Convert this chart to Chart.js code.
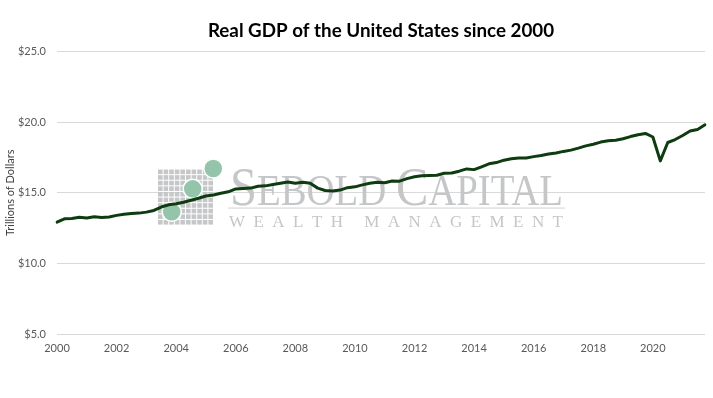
<!DOCTYPE html>
<html>
<head>
<meta charset="utf-8">
<script src="https://cdn.jsdelivr.net/npm/chart.js@4.4.0/dist/chart.umd.min.js"></script>
<style>
  html, body { margin: 0; padding: 0; background: #fff; }
</style>
</head>
<body>
<canvas id="gdp" width="713" height="398"></canvas>
<script>
// quarters 2000 Q1 .. 2021 Q4
const years = [2000, 2001, 2002, 2003, 2004, 2005, 2006, 2007, 2008, 2009, 2010,
               2011, 2012, 2013, 2014, 2015, 2016, 2017, 2018, 2019, 2020, 2021];
const quarterNames = ['Q1', 'Q2', 'Q3', 'Q4'];
const yearTicks = ['2000', '2002', '2004', '2006', '2008', '2010',
                   '2012', '2014', '2016', '2018', '2020'];
const valueTicks = [5, 10, 15, 20, 25];

// real GDP, trillions of dollars, one row per year
const gdpTrillions = [
  12.92, 13.16, 13.18, 13.26,
  13.22, 13.30, 13.25, 13.28,
  13.40, 13.48, 13.54, 13.56,
  13.63, 13.75, 13.99, 14.15,
  14.22, 14.33, 14.47, 14.61,
  14.77, 14.84, 14.97, 15.07,
  15.27, 15.30, 15.33, 15.46,
  15.49, 15.58, 15.67, 15.76,
  15.67, 15.75, 15.67, 15.33,
  15.16, 15.13, 15.19, 15.36,
  15.42, 15.56, 15.67, 15.75,
  15.71, 15.83, 15.82, 16.00,
  16.13, 16.20, 16.22, 16.24,
  16.38, 16.40, 16.53, 16.69,
  16.64, 16.84, 17.05, 17.14,
  17.31, 17.41, 17.46, 17.47,
  17.56, 17.64, 17.74, 17.82,
  17.93, 18.02, 18.16, 18.32,
  18.44, 18.59, 18.68, 18.72,
  18.83, 18.98, 19.11, 19.20,
  18.95, 17.26, 18.56, 18.77,
  19.06, 19.37, 19.48, 19.81
];

const categories = [];
years.forEach(y => quarterNames.forEach(q => categories.push(y + ' ' + q)));

const tickFont = { family: 'Lato', size: 11 };
const tickColor = '#595959';

// faded company logo sitting behind the line
const watermark = {
  id: 'watermark',
  beforeDatasetsDraw(chart) {
    const ctx = chart.ctx;
    const a = chart.chartArea;
    const ox = a.left + 101, oy = a.top + 118;
    ctx.save();

    const cell = 5.6;
    ctx.fillStyle = '#c6c7c9';
    for (let r = 0; r < 10; r++) {
      for (let c = 0; c < 10; c++) {
        ctx.fillRect(ox + c * cell, oy + r * cell, cell - 1, cell - 1);
      }
    }

    ctx.fillStyle = '#94c4aa';
    ctx.strokeStyle = '#ffffff';
    ctx.lineWidth = 1.5;
    [[13.7, 42.3], [34.7, 19.3], [55.3, -1]].forEach(p => {
      ctx.beginPath();
      ctx.arc(ox + p[0], oy + p[1], 9.5, 0, Math.PI * 2);
      ctx.fill();
      ctx.stroke();
    });

    ctx.fillStyle = '#c4c6c8';
    const big = '55px "Liberation Serif"', small = '44px "Liberation Serif"';
    const pieces = [['S', big], ['EBOLD ', small], ['C', big], ['APITAL', small]];
    let total = 0;
    pieces.forEach(p => { ctx.font = p[1]; p.push(ctx.measureText(p[0]).width); total += p[2]; });
    ctx.save();
    ctx.translate(ox + 72, oy + 35);
    ctx.scale(333 / total, 1);
    let x = 0;
    ctx.textBaseline = 'alphabetic';
    pieces.forEach(p => { ctx.font = p[1]; ctx.fillText(p[0], x, 0); x += p[2]; });
    ctx.restore();

    ctx.strokeStyle = '#d0d2d4';
    ctx.lineWidth = 1;
    ctx.beginPath();
    ctx.moveTo(ox + 70, oy + 38.5);
    ctx.lineTo(ox + 407, oy + 38.5);
    ctx.stroke();

    const sub = 'WEALTH MANAGEMENT';
    ctx.font = '17px "Liberation Serif"';
    let sum = 0;
    for (const ch of sub) sum += ctx.measureText(ch).width;
    const gap = (334 - sum) / (sub.length - 1);
    let sx = ox + 71;
    for (const ch of sub) {
      ctx.fillText(ch, sx, oy + 57);
      sx += ctx.measureText(ch).width + gap;
    }
    ctx.restore();
  }
};

new Chart(document.getElementById('gdp'), {
  type: 'line',
  data: {
    labels: categories,
    datasets: [{
      data: gdpTrillions,
      borderColor: '#0e3b10',
      borderWidth: 3,
      borderCapStyle: 'round',
      borderJoinStyle: 'round',
      pointRadius: 0,
      tension: 0,
      fill: false
    }]
  },
  options: {
    responsive: false,
    animation: false,
    layout: { padding: { left: 0, right: 7, top: 0, bottom: 0 } },
    plugins: {
      legend: { display: false },
      tooltip: { enabled: false },
      title: {
        display: true,
        text: 'Real GDP of the United States since 2000',
        fullSize: false,
        color: '#000000',
        font: { family: 'Lato', size: 18.8, weight: 'bold' },
        padding: { top: 20, bottom: 9 }
      }
    },
    scales: {
      x: {
        type: 'category',
        grid: { display: false, drawTicks: false },
        border: { display: false },
        afterFit: s => { s.height = 64; },
        ticks: {
          autoSkip: false,
          maxRotation: 0,
          padding: 8,
          color: tickColor,
          font: tickFont,
          callback: function (v, i) {
            const y = categories[i].slice(0, 4);
            return (i % 4 === 0 && yearTicks.includes(y)) ? y : '';
          }
        }
      },
      y: {
        min: valueTicks[0],
        max: valueTicks[valueTicks.length - 1],
        afterFit: s => { s.width = 57; },
        afterBuildTicks: s => { s.ticks = valueTicks.map(v => ({ value: v })); },
        grid: { color: '#d9d9d9', lineWidth: 1, drawTicks: false },
        border: { display: false },
        title: {
          display: true,
          text: 'Trillions of Dollars',
          color: '#404040',
          font: { family: 'Lato', size: 11 }
        },
        ticks: {
          padding: 11,
          color: tickColor,
          font: tickFont,
          callback: v => '$' + v.toFixed(1)
        }
      }
    }
  },
  plugins: [watermark]
});
</script>
</body>
</html>
